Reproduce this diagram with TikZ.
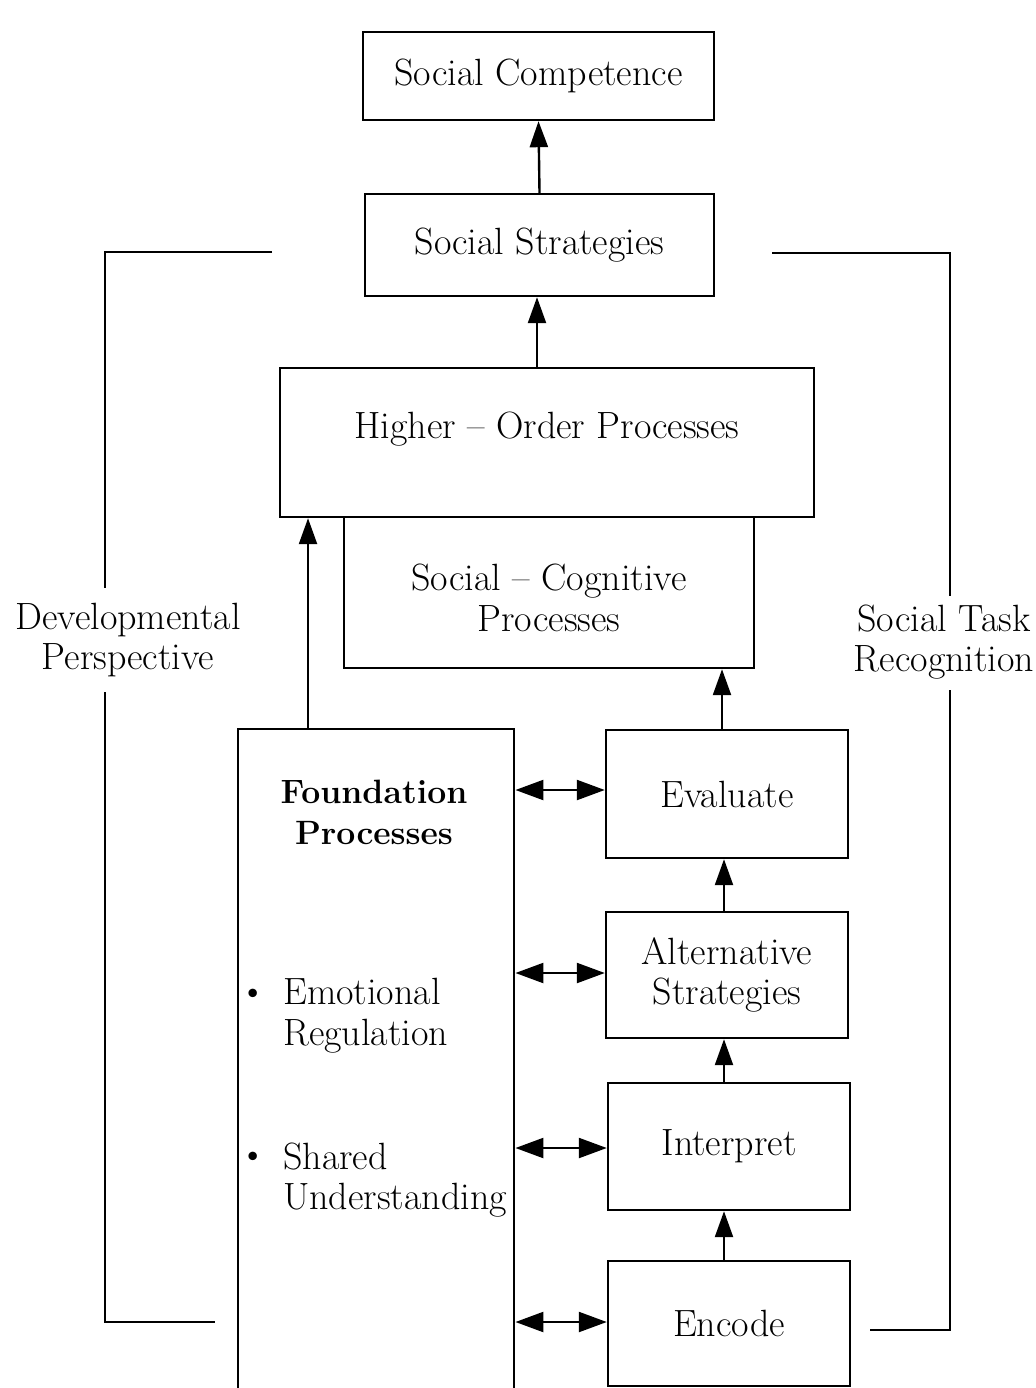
\documentclass[tikz,border=0pt]{standalone}
\usetikzlibrary{arrows.meta,calc}
\begin{document}
\begin{tikzpicture}[x=0.025cm,y=-0.025cm,
  box/.style={draw,line width=1.7pt,inner sep=0pt,align=center},
  txt/.style={font=\fontsize{27}{29}\selectfont,align=center,inner sep=0pt},
  arr/.style={line width=1.7pt,-{Triangle[length=0.65cm,width=0.45cm]}},
  darr/.style={line width=1.7pt,{Triangle[length=0.7cm,width=0.5cm]}-{Triangle[length=0.7cm,width=0.5cm]}},
  brk/.style={line width=1.7pt}]
\clip (0,0) rectangle (1035,1388);
\fill[white] (0,0) rectangle (1035,1388);
% boxes
\node[box,txt,minimum width=8.775cm,minimum height=2.2cm] (sc) at (538.5,76) {Social Competence};
\node[box,txt,minimum width=8.725cm,minimum height=2.55cm] (ss) at (539.5,245) {Social Strategies};
\node[box,minimum width=13.35cm,minimum height=3.725cm] (ho) at (547,442.5) {};
\node[txt] (hot) at (547,429) {Higher -- Order Processes};
\node[box,minimum width=10.25cm,minimum height=3.775cm] (scp) at (549,592.5) {};
\node[txt] (scpt) at (549,598) {Social -- Cognitive\\Processes};
\node[box,minimum width=6.9cm,minimum height=17cm,anchor=north west] (fp) at (237,728) {};
\node[txt,font=\fontsize{24}{29}\selectfont\bfseries] (fpt) at (374,812) {Foundation\\Processes};
\node[txt] (b1) at (253,996) {\textbullet};
\node[txt,align=left,anchor=west] (er) at (283,1016) {Emotional\\Regulation};
\node[txt] (b2) at (253,1159) {\textbullet};
\node[txt,align=left,anchor=west] (su) at (283,1180) {Shared\\Understanding};
\node[box,txt,minimum width=6.05cm,minimum height=3.2cm] (ev) at (727,794) {Evaluate};
\node[box,txt,minimum width=6.05cm,minimum height=3.15cm] (al) at (727,975) {Alternative\\Strategies};
\node[box,txt,minimum width=6.05cm,minimum height=3.175cm] (in) at (729,1146.5) {Interpret};
\node[box,txt,minimum width=6.05cm,minimum height=3.125cm] (en) at (729,1323.5) {Encode};
% side labels
\node[txt] (dp) at (128,640) {Developmental\\Perspective};
\node[txt] (st) at (944,642) {Social Task\\Recognition};
% vertical arrows
\draw[arr] (ss.north) -- (sc.south);
\draw[arr] (ho.north -| 537,0) -- (ss.south -| 537,0);
\coordinate (fpx) at ([xshift=1.775cm]fp.north west);
\draw[arr] (fpx) -- (fpx |- ho.south);
\draw[arr] (ev.north -| 722,0) -- (scp.south -| 722,0);
\draw[arr] (al.north -| 724,0) -- (ev.south -| 724,0);
\draw[arr] (in.north -| 724,0) -- (al.south -| 724,0);
\draw[arr] (en.north -| 724,0) -- (in.south -| 724,0);
% double arrows
\draw[darr] (fp.east |- 0,790) -- (ev.west |- 0,790);
\draw[darr] (fp.east |- 0,973) -- (al.west |- 0,973);
\draw[darr] (fp.east |- 0,1148) -- (in.west |- 0,1148);
\draw[darr] (fp.east |- 0,1322) -- (en.west |- 0,1322);
% brackets
\coordinate (l1) at (272,252);
\coordinate (l2) at (105,588);
\coordinate (l3) at (105,692);
\coordinate (l4) at (215,1322);
\draw[brk] (l1) -| (l2);
\draw[brk] (l3) |- (l4);
\coordinate (r1) at (772,253);
\coordinate (r2) at (950,596);
\coordinate (r3) at (950,690);
\coordinate (r4) at (870,1330);
\draw[brk] (r1) -| (r2);
\draw[brk] (r3) |- (r4);
\end{tikzpicture}
\end{document}
